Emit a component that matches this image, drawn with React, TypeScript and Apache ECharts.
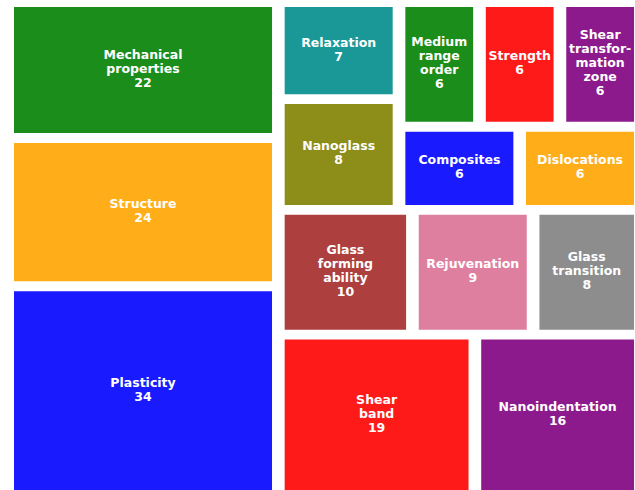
import React, { useEffect, useRef } from 'react';
import * as echarts from 'echarts';

// Topics (sorted descending, as fed to the squarify layout)
const categories = [
  'Plasticity',
  'Structure',
  'Mechanical\nproperties',
  'Shear\nband',
  'Nanoindentation',
  'Glass\nforming\nability',
  'Rejuvenation',
  'Glass\ntransition',
  'Nanoglass',
  'Relaxation',
  'Composites',
  'Dislocations',
  'Medium\nrange\norder',
  'Strength',
  'Shear\ntransfor-\nmation\nzone',
];
const values = [34, 24, 22, 19, 16, 10, 9, 8, 8, 7, 6, 6, 6, 6, 6];
const palette = [
  '#1a1aff', '#ffae1a', '#1a8d1a', '#ff1a1a', '#8d1a8d',
  '#ae3f3f', '#df7f9f', '#8d8d8d', '#8d8d1a', '#1a9898',
];

type R = { x: number; y: number; dx: number; dy: number };
const sum = (a: number[]) => a.reduce((s, v) => s + v, 0);

function layoutRow(s: number[], x: number, y: number, dx: number, dy: number): R[] {
  const width = sum(s) / dy;
  const out: R[] = [];
  for (const v of s) { out.push({ x, y, dx: width, dy: v / width }); y += v / width; }
  return out;
}
function layoutCol(s: number[], x: number, y: number, dx: number, dy: number): R[] {
  const height = sum(s) / dx;
  const out: R[] = [];
  for (const v of s) { out.push({ x, y, dx: v / height, dy: height }); x += v / height; }
  return out;
}
function layout(s: number[], x: number, y: number, dx: number, dy: number) {
  return dx >= dy ? layoutRow(s, x, y, dx, dy) : layoutCol(s, x, y, dx, dy);
}
function leftover(s: number[], x: number, y: number, dx: number, dy: number): R {
  if (dx >= dy) { const w = sum(s) / dy; return { x: x + w, y, dx: dx - w, dy }; }
  const h = sum(s) / dx; return { x, y: y + h, dx, dy: dy - h };
}
function worst(s: number[], x: number, y: number, dx: number, dy: number) {
  return Math.max(...layout(s, x, y, dx, dy).map(r => Math.max(r.dx / r.dy, r.dy / r.dx)));
}
function squarify(s: number[], x: number, y: number, dx: number, dy: number): R[] {
  if (s.length === 0) return [];
  if (s.length === 1) return layout(s, x, y, dx, dy);
  let i = 1;
  while (i < s.length && worst(s.slice(0, i), x, y, dx, dy) >= worst(s.slice(0, i + 1), x, y, dx, dy)) i++;
  const cur = s.slice(0, i);
  const rest = s.slice(i);
  const lo = leftover(cur, x, y, dx, dy);
  return layout(cur, x, y, dx, dy).concat(squarify(rest, lo.x, lo.y, lo.dx, lo.dy));
}
function paddedSquarify(vals: number[], W: number, H: number): R[] {
  const total = sum(vals);
  const norm = vals.map(v => (v * W * H) / total);
  return squarify(norm, 0, 0, W, H).map(r => {
    const o = { ...r };
    if (o.dx > 2) { o.x += 1; o.dx -= 2; }
    if (o.dy > 2) { o.y += 1; o.dy -= 2; }
    return o;
  });
}

export default function App() {
  const ref = useRef<HTMLDivElement>(null);
  useEffect(() => {
    if (!ref.current) return;
    const chart = echarts.init(ref.current, undefined, { renderer: 'svg' });
    const rects = paddedSquarify(values, 100, 100);
    const data = rects.map((r, i) => [r.x, r.y, r.dx, r.dy, i]);
    chart.setOption({
      animation: false,
      backgroundColor: '#ffffff',
      grid: { left: 7.67, top: 2.1, width: 632.7, height: 494.1, outerBoundsMode: 'none', containLabel: false },
      xAxis: { type: 'value', min: 0, max: 100, show: false },
      yAxis: { type: 'value', min: 0, max: 100, show: false },
      series: [
        {
          type: 'custom',
          clip: false,
          encode: { x: [0], y: [1] },
          data,
          renderItem: (params: any, api: any) => {
            const x = api.value(0), y = api.value(1), dx = api.value(2), dy = api.value(3);
            const i = api.value(4);
            const p0 = api.coord([x, y + dy]);
            const p1 = api.coord([x + dx, y]);
            const w = p1[0] - p0[0];
            const h = p1[1] - p0[1];
            return {
              type: 'group',
              children: [
                { type: 'rect', shape: { x: p0[0], y: p0[1], width: w, height: h }, style: { fill: palette[i % palette.length] } },
                {
                  type: 'text',
                  x: p0[0] + w / 2,
                  y: p0[1] + h / 2 - 1.5,
                  style: {
                    text: categories[i] + '\n' + values[i],
                    fill: '#ffffff',
                    fontSize: 12.5,
                    fontWeight: 'bold',
                    fontFamily: 'DejaVu Sans',
                    lineHeight: 14,
                    align: 'center',
                    verticalAlign: 'middle',
                  },
                },
              ],
            };
          },
        },
      ],
    });
    return () => chart.dispose();
  }, []);
  return <div ref={ref} style={{ position: 'fixed', left: 0, top: 0, width: 635, height: 490 }} />;
}
